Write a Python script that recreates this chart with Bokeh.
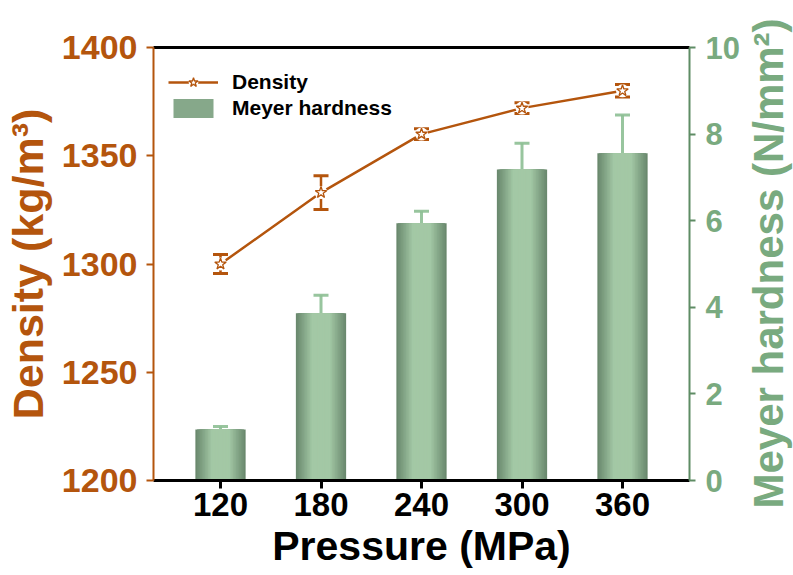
import numpy as np
from bokeh.plotting import figure
from bokeh.models import (Range1d, LinearAxis, FixedTicker, Whisker, TeeHead,
                          ColumnDataSource, Legend, LegendItem, Label)
from bokeh.embed import file_html
from bokeh.resources import INLINE

# ---------------- data ----------------
pressure = [120, 180, 240, 300, 360]
density = [1300, 1333, 1360, 1372, 1380]
density_err = [4.4, 7.8, 2.5, 2.5, 2.9]
hardness = [1.18, 3.86, 5.94, 7.18, 7.56]
hardness_err = [0.07, 0.42, 0.28, 0.61, 0.88]
x_ticks = [120, 180, 240, 300, 360]
density_ticks = [1200, 1250, 1300, 1350, 1400]
hardness_ticks = [0, 2, 4, 6, 8, 10]

# ---------------- style ----------------
ORANGE = "#b4550d"
GREEN_TXT = "#79aa7f"
GREEN_AX = "#5e8c64"
ERR_GREEN = "#8dbf93"
FONT = "Liberation Sans"
BAR_W = 30

p = figure(width=793, height=575, output_backend="svg", toolbar_location=None,
           x_range=Range1d(80, 400), y_range=Range1d(1200, 1400),
           min_border_left=153, min_border_right=104, min_border_top=47,
           min_border_bottom=95)
p.grid.visible = False
p.outline_line_color = None
p.background_fill_color = "white"
p.border_fill_color = "white"
p.extra_y_ranges = {"hard": Range1d(0, 10)}

# ---------------- bars with horizontal gradient (nested) ----------------
N = 16
dark = np.array([0x6a, 0x89, 0x6e], dtype=float)
light = np.array([0xa3, 0xc8, 0xa5], dtype=float)
bar_renderers = []
for k in range(N):
    t = min(1.0, (k / (N - 1)) * 1.5)
    c = dark + (light - dark) * t
    col = "#%02x%02x%02x" % tuple(int(round(v)) for v in c)
    r = p.vbar(x=pressure, top=hardness, bottom=0, width=BAR_W * (1 - k / N),
               fill_color=col, line_color=None, y_range_name="hard")
    bar_renderers.append(r)

hard_src = ColumnDataSource(dict(
    x=pressure,
    upper=[h + e for h, e in zip(hardness, hardness_err)],
    lower=[h - e for h, e in zip(hardness, hardness_err)]))
wh = Whisker(base="x", upper="upper", lower="lower", source=hard_src,
             y_range_name="hard", line_color=ERR_GREEN, line_width=3, line_alpha=0.9,
             upper_head=TeeHead(size=15, line_color=ERR_GREEN, line_width=3, line_alpha=0.9),
             lower_head=TeeHead(size=15, line_color=ERR_GREEN, line_width=3, line_alpha=0.9))
p.add_layout(wh)

# ---------------- density line ----------------
line_r = p.line(pressure, density, line_color=ORANGE, line_width=2.5)
gap_r = p.scatter(pressure, density, marker="circle", size=13,
                  fill_color="white", line_color=None)
star_r = p.scatter(pressure, density, marker="star", size=12,
                   fill_color="white", line_color=ORANGE, line_width=1.3)

dens_src = ColumnDataSource(dict(
    x=pressure,
    upper=[d + e for d, e in zip(density, density_err)],
    lower=[d - e for d, e in zip(density, density_err)]))
wd = Whisker(base="x", upper="upper", lower="lower", source=dens_src,
             line_color=ORANGE, line_width=2.5,
             upper_head=TeeHead(size=15, line_color=ORANGE, line_width=3),
             lower_head=TeeHead(size=15, line_color=ORANGE, line_width=3))
p.add_layout(wd)

legend = Legend(items=[LegendItem(label="Density", renderers=[line_r, gap_r, star_r]),
                       LegendItem(label="Meyer hardness", renderers=[bar_renderers[5]])],
                location=(15, 360), glyph_width=50, glyph_height=24, label_height=24,
                label_standoff=14, padding=5, spacing=2, margin=0,
                border_line_color=None, background_fill_alpha=0,
                label_text_font=FONT, label_text_font_style="bold",
                label_text_font_size="21px", label_text_color="black")
p.add_layout(legend)

# ---------------- axes ----------------
xa = p.xaxis[0]
xa.ticker = FixedTicker(ticks=x_ticks)
xa.axis_line_color = "black"
xa.axis_line_width = 3
xa.major_tick_line_color = "black"
xa.major_tick_line_width = 3
xa.major_tick_out = 8
xa.major_tick_in = 0
xa.minor_tick_line_color = None
xa.major_label_text_font = FONT
xa.major_label_text_font_style = "bold"
xa.major_label_text_font_size = "33px"
xa.major_label_text_color = "black"
xa.major_label_standoff = 4
xa.axis_label = "Pressure (MPa)"
xa.axis_label_text_font = FONT
xa.axis_label_text_font_style = "bold"
xa.axis_label_text_font_size = "41px"
xa.axis_label_text_color = "black"
xa.axis_label_standoff = 4

ya = p.yaxis[0]
ya.ticker = FixedTicker(ticks=density_ticks)
ya.axis_line_color = ORANGE
ya.axis_line_width = 2
ya.major_tick_line_color = ORANGE
ya.major_tick_line_width = 2
ya.major_tick_out = 7
ya.major_tick_in = 0
ya.minor_tick_line_color = None
ya.major_label_text_font = FONT
ya.major_label_text_font_style = "bold"
ya.major_label_text_font_size = "34px"
ya.major_label_text_color = ORANGE
ya.major_label_standoff = 9
ya.axis_label = "Density (kg/m³)"
ya.axis_label_text_font = FONT
ya.axis_label_text_font_style = "bold"
ya.axis_label_text_font_size = "43px"
ya.axis_label_text_color = ORANGE
ya.axis_label_standoff = 7

ra = LinearAxis(y_range_name="hard", ticker=FixedTicker(ticks=hardness_ticks),
                axis_line_color=GREEN_AX, axis_line_width=2,
                major_tick_line_color=GREEN_AX, major_tick_line_width=2,
                major_tick_out=6, major_tick_in=0, minor_tick_line_color=None,
                major_label_text_font=FONT, major_label_text_font_style="bold",
                major_label_text_font_size="31px", major_label_text_color=GREEN_TXT,
                major_label_standoff=10)
p.add_layout(ra, "right")

ta = LinearAxis(ticker=FixedTicker(ticks=[]), axis_line_color="black", axis_line_width=3,
                major_label_text_font_size="0px", major_tick_line_color=None,
                minor_tick_line_color=None)
p.add_layout(ta, "above")

# right-hand axis title, reading bottom to top (placed in the right side panel)
p.add_layout(Label(x=768, y=263, x_units="canvas", y_units="canvas",
                   text="Meyer hardness (N/mm²)", angle=np.pi / 2,
                   text_align="center", text_baseline="middle",
                   text_font=FONT, text_font_style="bold", text_font_size="42px",
                   text_color=GREEN_TXT), "right")

open("out.html", "w").write(file_html(p, INLINE))
